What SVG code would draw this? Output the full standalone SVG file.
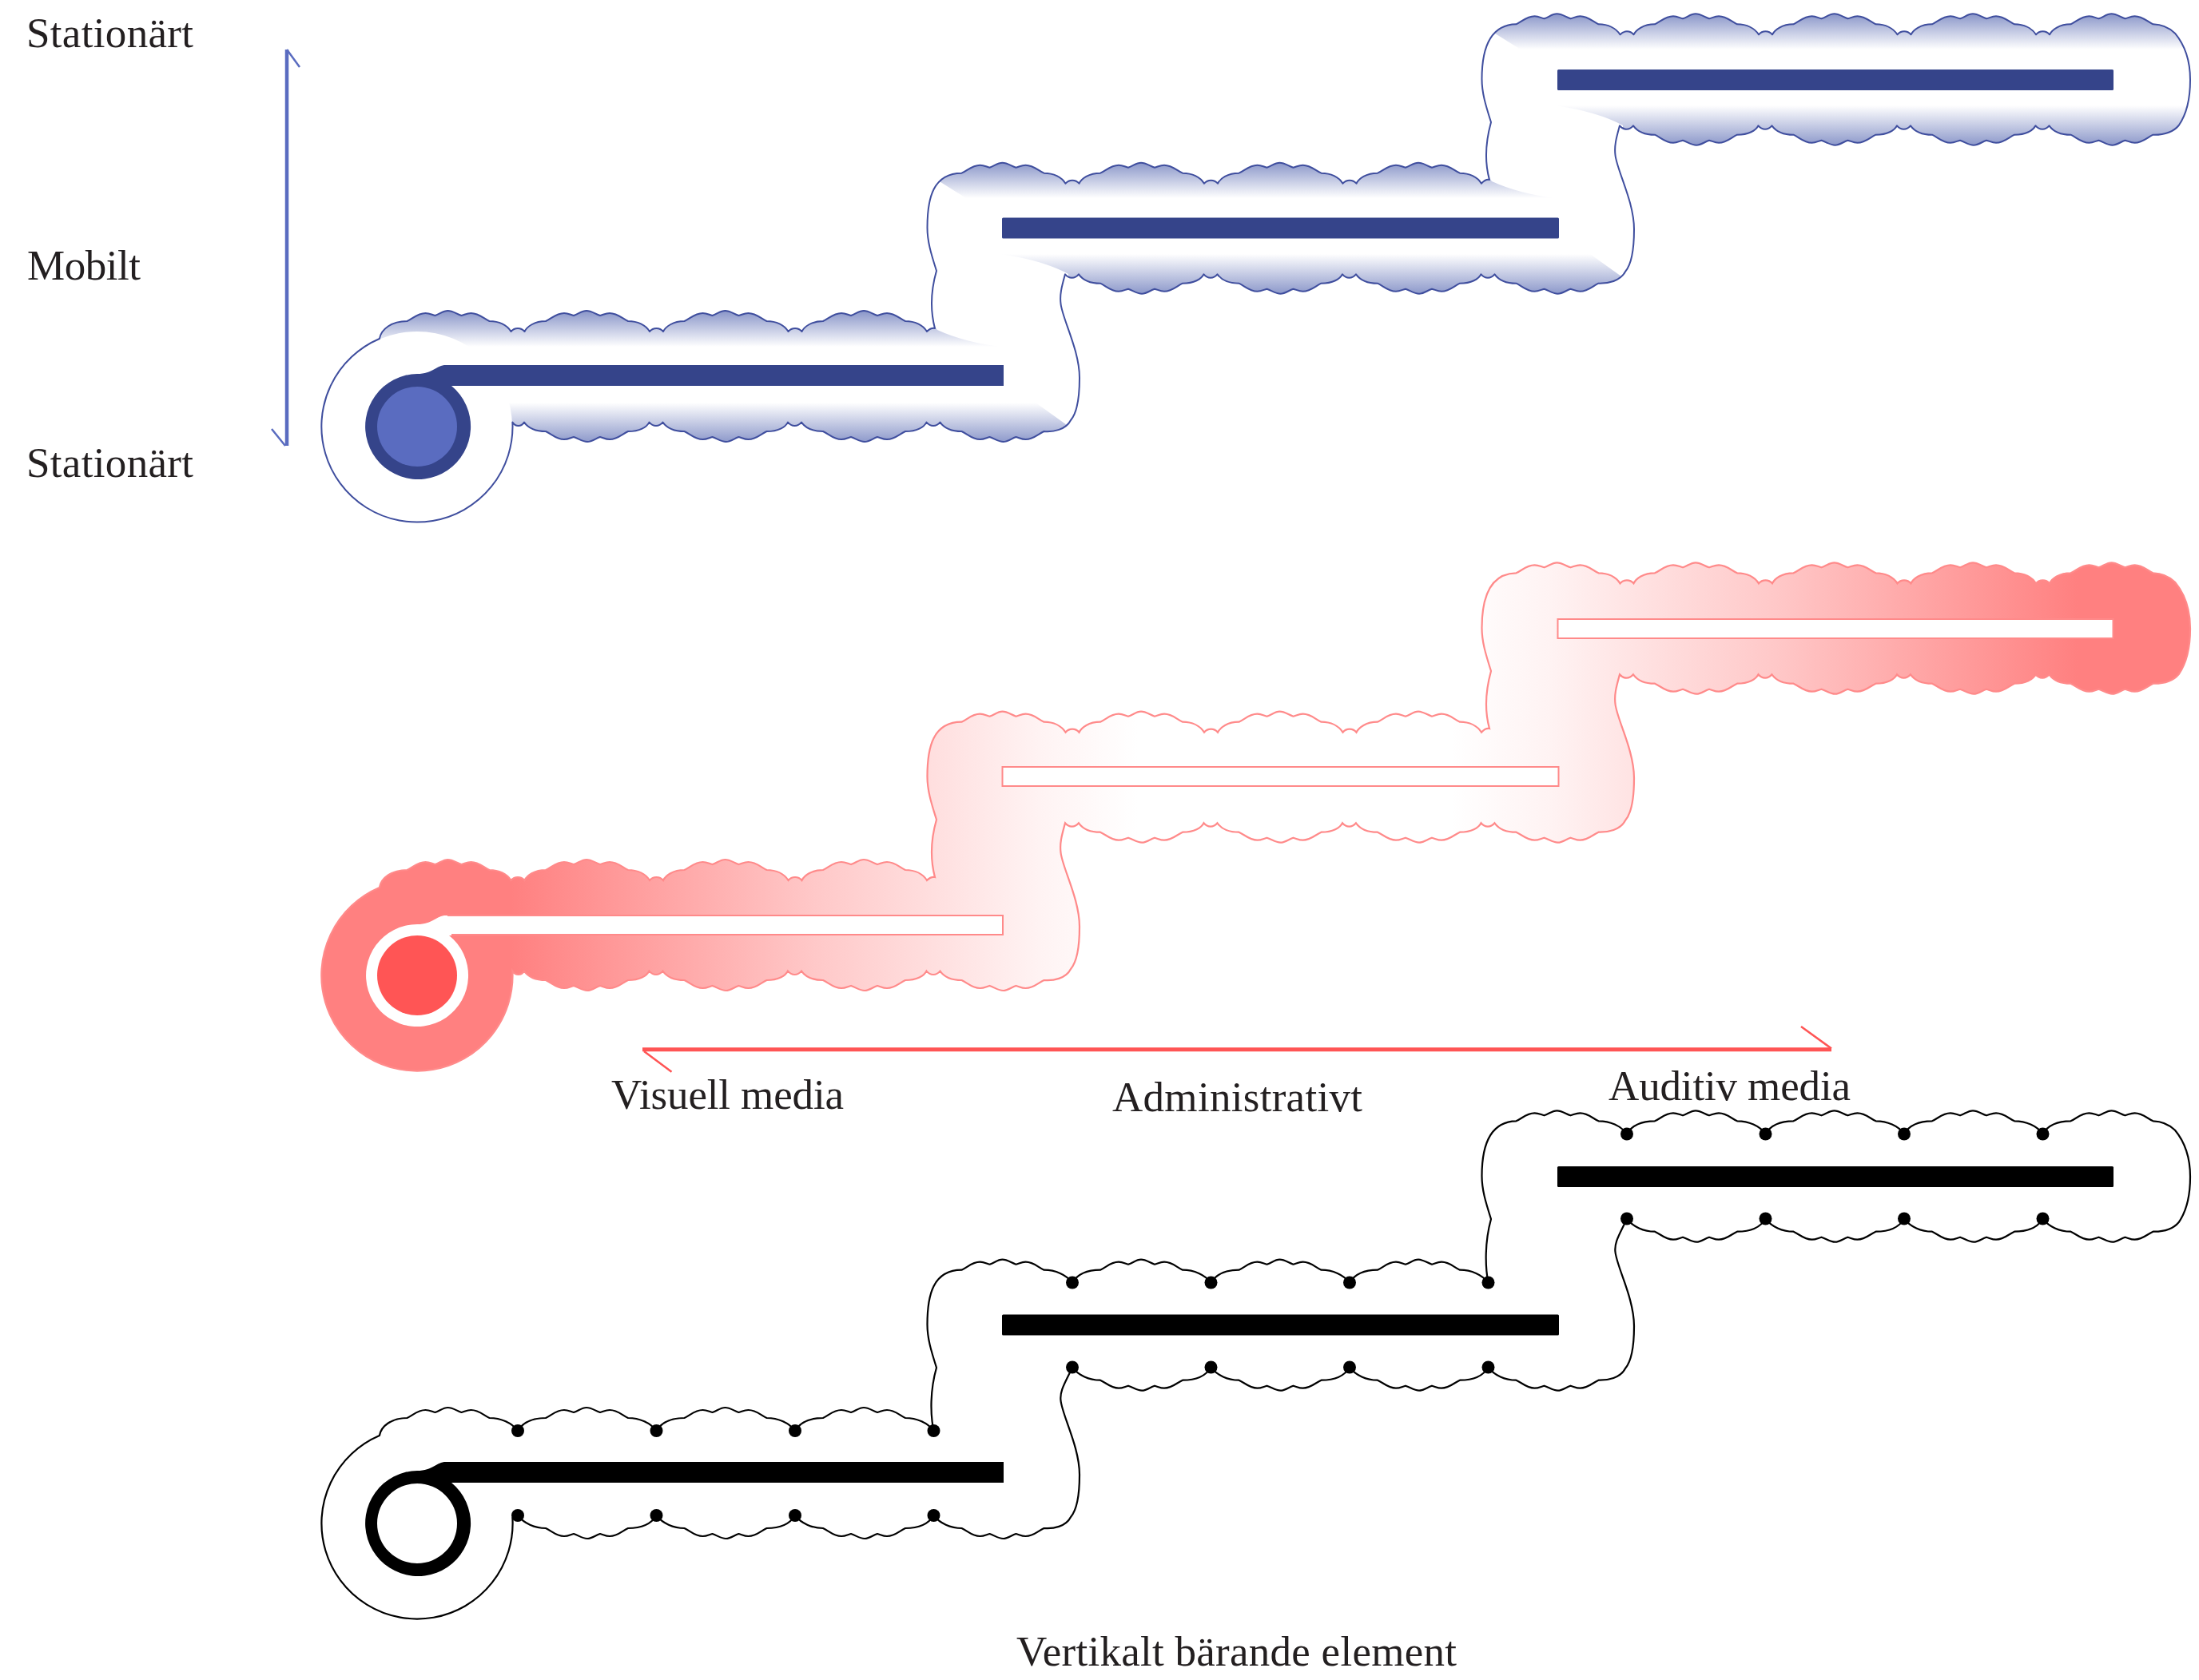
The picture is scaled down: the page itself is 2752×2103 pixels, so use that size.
<svg xmlns="http://www.w3.org/2000/svg" xmlns:xlink="http://www.w3.org/1999/xlink" width="2752" height="2103" viewBox="0 0 2752 2103">
<style>
text{font-family:"Liberation Serif","Times New Roman",serif;font-size:53px;fill:#231f20}
.ol{fill:none;stroke-width:2;stroke-linejoin:round}
.blue-ol{stroke:#3f4e9e}
.red-ol{stroke:#ff8a8a;stroke-width:2.2}
.black-ol{stroke:#000;stroke-width:2.2}
.bar-blue{fill:#35448a}
.bar-black{fill:#000}
.bar-red{fill:#fff;stroke:#ff8a8a;stroke-width:2}
.arrow-blue{fill:none;stroke:#5a6cc0}
.arrow-red{fill:none;stroke:#ff5555}
</style>
<defs>
<linearGradient id="gTop" x1="0" y1="0" x2="0" y2="1"><stop offset="0" stop-color="#8c98ca"/><stop offset="1" stop-color="#fff"/></linearGradient>
<linearGradient id="gBot" x1="0" y1="0" x2="0" y2="1"><stop offset="0" stop-color="#fff"/><stop offset="1" stop-color="#8c98ca"/></linearGradient>
<linearGradient id="gRed" gradientUnits="userSpaceOnUse" x1="640" y1="0" x2="2600" y2="0"><stop offset="0" stop-color="#ff8080"/><stop offset="0.193" stop-color="#ffc8c8"/><stop offset="0.337" stop-color="#fff3f3"/><stop offset="0.4" stop-color="#fff"/><stop offset="0.6" stop-color="#fff"/><stop offset="0.663" stop-color="#fff3f3"/><stop offset="0.807" stop-color="#ffc8c8"/><stop offset="1" stop-color="#ff8080"/></linearGradient>
<path id="outlineDot" d="M474.9,1797C477,1785 490,1775 509.5,1775
c7,-3 13,-10 23,-10c5,0 8,2 12,3c6,-2 10,-6 16,-6c6,0 11,4 17,6c4,-1 7,-3 12,-3c10,0 16,7 23,10c14.5,0 28,6 35.5,16
c6,-10 18,-16 35,-16c7,-3 13,-10 23,-10c5,0 8,2 12,3c6,-2 10,-6 16,-6c6,0 11,4 17,6c4,-1 7,-3 12,-3c10,0 16,7 23,10c14.5,0 28,6 35.5,16
c6,-10 18,-16 35,-16c7,-3 13,-10 23,-10c5,0 8,2 12,3c6,-2 10,-6 16,-6c6,0 11,4 17,6c4,-1 7,-3 12,-3c10,0 16,7 23,10c14.5,0 28,6 35.5,16
c6,-10 18,-16 35,-16c7,-3 13,-10 23,-10c5,0 8,2 12,3c6,-2 10,-6 16,-6c6,0 11,4 17,6c4,-1 7,-3 12,-3c10,0 16,7 23,10c14.5,0 28,6 35.5,16
C1164,1770 1164,1740 1172,1712C1165,1690 1160.5,1675 1160.5,1658C1160.5,1620 1168,1590 1203.5,1589.7
c7,-3 13,-10 23,-10c5,0 8,2 12,3c6,-2 10,-6 16,-6c6,0 11,4 17,6c4,-1 7,-3 12,-3c10,0 16,7 23,10c14.5,0 28,6 35.5,16
c6,-10 18,-16 35,-16c7,-3 13,-10 23,-10c5,0 8,2 12,3c6,-2 10,-6 16,-6c6,0 11,4 17,6c4,-1 7,-3 12,-3c10,0 16,7 23,10c14.5,0 28,6 35.5,16
c6,-10 18,-16 35,-16c7,-3 13,-10 23,-10c5,0 8,2 12,3c6,-2 10,-6 16,-6c6,0 11,4 17,6c4,-1 7,-3 12,-3c10,0 16,7 23,10c14.5,0 28,6 35.5,16
c6,-10 18,-16 35,-16c7,-3 13,-10 23,-10c5,0 8,2 12,3c6,-2 10,-6 16,-6c6,0 11,4 17,6c4,-1 7,-3 12,-3c10,0 16,7 23,10c14.5,0 28,6 35.5,16
C1858.5,1585 1858,1555 1866,1526C1859,1504 1854.5,1489 1854.5,1472C1854.5,1440 1862,1404 1897.5,1403.3
c7,-3 13,-10 23,-10c5,0 8,2 12,3c6,-2 10,-6 16,-6c6,0 11,4 17,6c4,-1 7,-3 12,-3c10,0 16,7 23,10c14.5,0 28,6 35.5,16
c6,-10 18,-16 35,-16c7,-3 13,-10 23,-10c5,0 8,2 12,3c6,-2 10,-6 16,-6c6,0 11,4 17,6c4,-1 7,-3 12,-3c10,0 16,7 23,10c14.5,0 28,6 35.5,16
c6,-10 18,-16 35,-16c7,-3 13,-10 23,-10c5,0 8,2 12,3c6,-2 10,-6 16,-6c6,0 11,4 17,6c4,-1 7,-3 12,-3c10,0 16,7 23,10c14.5,0 28,6 35.5,16
c6,-10 18,-16 35,-16c7,-3 13,-10 23,-10c5,0 8,2 12,3c6,-2 10,-6 16,-6c6,0 11,4 17,6c4,-1 7,-3 12,-3c10,0 16,7 23,10c14.5,0 28,6 35.5,16
c6,-10 18,-16 35,-16c7,-3 13,-10 23,-10c5,0 8,2 12,3c6,-2 10,-6 16,-6c6,0 11,4 17,6c4,-1 7,-3 12,-3c10,0 16,7 23,10
C2703,1403.5 2713,1406 2722,1414.7C2733,1428 2741,1445 2741,1473C2741,1500 2735,1518 2726.7,1530C2720,1538 2710,1542 2694.5,1541.7
c-7,3 -13,10 -23,10c-5,0 -8,-2 -12,-3c-6,2 -10,6 -16,6c-6,0 -11,-4 -17,-6c-4,1 -7,3 -12,3c-10,0 -16,-7 -23,-10c-14,0 -27,-6 -35,-16
c-6,10 -18,16 -35.5,16c-7,3 -13,10 -23,10c-5,0 -8,-2 -12,-3c-6,2 -10,6 -16,6c-6,0 -11,-4 -17,-6c-4,1 -7,3 -12,3c-10,0 -16,-7 -23,-10c-14,0 -27,-6 -35,-16
c-6,10 -18,16 -35.5,16c-7,3 -13,10 -23,10c-5,0 -8,-2 -12,-3c-6,2 -10,6 -16,6c-6,0 -11,-4 -17,-6c-4,1 -7,3 -12,3c-10,0 -16,-7 -23,-10c-14,0 -27,-6 -35,-16
c-6,10 -18,16 -35.5,16c-7,3 -13,10 -23,10c-5,0 -8,-2 -12,-3c-6,2 -10,6 -16,6c-6,0 -11,-4 -17,-6c-4,1 -7,3 -12,3c-10,0 -16,-7 -23,-10c-14,0 -27,-6 -35,-16
C2027,1545 2020,1555 2021.5,1567C2023,1585 2045,1625 2045,1660C2045,1690 2040,1706 2034,1713C2028,1725 2012,1728 2000.5,1727.7
c-7,3 -13,10 -23,10c-5,0 -8,-2 -12,-3c-6,2 -10,6 -16,6c-6,0 -11,-4 -17,-6c-4,1 -7,3 -12,3c-10,0 -16,-7 -23,-10c-14,0 -27,-6 -35,-16
c-6,10 -18,16 -35.5,16c-7,3 -13,10 -23,10c-5,0 -8,-2 -12,-3c-6,2 -10,6 -16,6c-6,0 -11,-4 -17,-6c-4,1 -7,3 -12,3c-10,0 -16,-7 -23,-10c-14,0 -27,-6 -35,-16
c-6,10 -18,16 -35.5,16c-7,3 -13,10 -23,10c-5,0 -8,-2 -12,-3c-6,2 -10,6 -16,6c-6,0 -11,-4 -17,-6c-4,1 -7,3 -12,3c-10,0 -16,-7 -23,-10c-14,0 -27,-6 -35,-16
c-6,10 -18,16 -35.5,16c-7,3 -13,10 -23,10c-5,0 -8,-2 -12,-3c-6,2 -10,6 -16,6c-6,0 -11,-4 -17,-6c-4,1 -7,3 -12,3c-10,0 -16,-7 -23,-10c-14,0 -27,-6 -35,-16
C1333,1731 1326,1741 1327.5,1753C1329,1771 1351,1811 1351,1846C1351,1876 1346,1892 1340,1899C1334,1911 1318,1914 1306.5,1913
c-7,3 -13,10 -23,10c-5,0 -8,-2 -12,-3c-6,2 -10,6 -16,6c-6,0 -11,-4 -17,-6c-4,1 -7,3 -12,3c-10,0 -16,-7 -23,-10c-14,0 -27,-6 -35,-16
c-6,10 -18,16 -35.5,16c-7,3 -13,10 -23,10c-5,0 -8,-2 -12,-3c-6,2 -10,6 -16,6c-6,0 -11,-4 -17,-6c-4,1 -7,3 -12,3c-10,0 -16,-7 -23,-10c-14,0 -27,-6 -35,-16
c-6,10 -18,16 -35.5,16c-7,3 -13,10 -23,10c-5,0 -8,-2 -12,-3c-6,2 -10,6 -16,6c-6,0 -11,-4 -17,-6c-4,1 -7,3 -12,3c-10,0 -16,-7 -23,-10c-14,0 -27,-6 -35,-16
c-6,10 -18,16 -35.5,16c-7,3 -13,10 -23,10c-5,0 -8,-2 -12,-3c-6,2 -10,6 -16,6c-6,0 -11,-4 -17,-6c-4,1 -7,3 -12,3c-10,0 -16,-7 -23,-10c-14,0 -27,-6 -35,-16
L641.4,1900A119.6,119.6 0 1 1 474.9,1797Z"/>
<path id="outlineCusp" d="M474.9,1797C477,1785 490,1775 509.5,1775
c7,-3 13,-10 23,-10c5,0 8,2 12,3c6,-2 10,-6 16,-6c6,0 11,4 17,6c4,-1 7,-3 12,-3c10,0 16,7 23,10c12,0 22,5 27,13c2.5,-3 6,-4 8.5,-4c2.5,0 6,1 8.5,4c3,-6 12,-13 26.5,-13
c7,-3 13,-10 23,-10c5,0 8,2 12,3c6,-2 10,-6 16,-6c6,0 11,4 17,6c4,-1 7,-3 12,-3c10,0 16,7 23,10c12,0 22,5 27,13c2.5,-3 6,-4 8.5,-4c2.5,0 6,1 8.5,4c3,-6 12,-13 26.5,-13
c7,-3 13,-10 23,-10c5,0 8,2 12,3c6,-2 10,-6 16,-6c6,0 11,4 17,6c4,-1 7,-3 12,-3c10,0 16,7 23,10c12,0 22,5 27,13c2.5,-3 6,-4 8.5,-4c2.5,0 6,1 8.5,4c3,-6 12,-13 26.5,-13
c7,-3 13,-10 23,-10c5,0 8,2 12,3c6,-2 10,-6 16,-6c6,0 11,4 17,6c4,-1 7,-3 12,-3c10,0 16,7 23,10c12,0 22,5 27,13
Q1165,1783 1170,1784C1165,1765 1164,1740 1172,1712C1165,1690 1160.5,1675 1160.5,1658C1160.5,1620 1168,1590 1203.5,1589.7
c7,-3 13,-10 23,-10c5,0 8,2 12,3c6,-2 10,-6 16,-6c6,0 11,4 17,6c4,-1 7,-3 12,-3c10,0 16,7 23,10c12,0 22,5 27,13c2.5,-3 6,-4 8.5,-4c2.5,0 6,1 8.5,4c3,-6 12,-13 26.5,-13
c7,-3 13,-10 23,-10c5,0 8,2 12,3c6,-2 10,-6 16,-6c6,0 11,4 17,6c4,-1 7,-3 12,-3c10,0 16,7 23,10c12,0 22,5 27,13c2.5,-3 6,-4 8.5,-4c2.5,0 6,1 8.5,4c3,-6 12,-13 26.5,-13
c7,-3 13,-10 23,-10c5,0 8,2 12,3c6,-2 10,-6 16,-6c6,0 11,4 17,6c4,-1 7,-3 12,-3c10,0 16,7 23,10c12,0 22,5 27,13c2.5,-3 6,-4 8.5,-4c2.5,0 6,1 8.5,4c3,-6 12,-13 26.5,-13
c7,-3 13,-10 23,-10c5,0 8,2 12,3c6,-2 10,-6 16,-6c6,0 11,4 17,6c4,-1 7,-3 12,-3c10,0 16,7 23,10c12,0 22,5 27,13
Q1859,1597 1864,1598C1859,1580 1858,1555 1866,1526C1859,1504 1854.5,1489 1854.5,1472C1854.5,1440 1862,1404 1897.5,1403.3
c7,-3 13,-10 23,-10c5,0 8,2 12,3c6,-2 10,-6 16,-6c6,0 11,4 17,6c4,-1 7,-3 12,-3c10,0 16,7 23,10c12,0 22,5 27,13c2.5,-3 6,-4 8.5,-4c2.5,0 6,1 8.5,4c3,-6 12,-13 26.5,-13
c7,-3 13,-10 23,-10c5,0 8,2 12,3c6,-2 10,-6 16,-6c6,0 11,4 17,6c4,-1 7,-3 12,-3c10,0 16,7 23,10c12,0 22,5 27,13c2.5,-3 6,-4 8.5,-4c2.5,0 6,1 8.5,4c3,-6 12,-13 26.5,-13
c7,-3 13,-10 23,-10c5,0 8,2 12,3c6,-2 10,-6 16,-6c6,0 11,4 17,6c4,-1 7,-3 12,-3c10,0 16,7 23,10c12,0 22,5 27,13c2.5,-3 6,-4 8.5,-4c2.5,0 6,1 8.5,4c3,-6 12,-13 26.5,-13
c7,-3 13,-10 23,-10c5,0 8,2 12,3c6,-2 10,-6 16,-6c6,0 11,4 17,6c4,-1 7,-3 12,-3c10,0 16,7 23,10c12,0 22,5 27,13c2.5,-3 6,-4 8.5,-4c2.5,0 6,1 8.5,4c3,-6 12,-13 26.5,-13
c7,-3 13,-10 23,-10c5,0 8,2 12,3c6,-2 10,-6 16,-6c6,0 11,4 17,6c4,-1 7,-3 12,-3c10,0 16,7 23,10
C2703,1403.5 2713,1406 2722,1414.7C2733,1428 2741,1445 2741,1473C2741,1500 2735,1518 2726.7,1530C2720,1538 2710,1542 2694.5,1541.7
c-7,3 -13,10 -23,10c-5,0 -8,-2 -12,-3c-6,2 -10,6 -16,6c-6,0 -11,-4 -17,-6c-4,1 -7,3 -12,3c-10,0 -16,-7 -23,-10c-12,0 -22,-4.4 -27,-11.4c-2.5,3 -6,4.4 -8.5,4.4c-2.5,0 -6,-1.4 -8.5,-4.4c-3,6 -12,11.4 -26.5,11.4
c-7,3 -13,10 -23,10c-5,0 -8,-2 -12,-3c-6,2 -10,6 -16,6c-6,0 -11,-4 -17,-6c-4,1 -7,3 -12,3c-10,0 -16,-7 -23,-10c-12,0 -22,-4.4 -27,-11.4c-2.5,3 -6,4.4 -8.5,4.4c-2.5,0 -6,-1.4 -8.5,-4.4c-3,6 -12,11.4 -26.5,11.4
c-7,3 -13,10 -23,10c-5,0 -8,-2 -12,-3c-6,2 -10,6 -16,6c-6,0 -11,-4 -17,-6c-4,1 -7,3 -12,3c-10,0 -16,-7 -23,-10c-12,0 -22,-4.4 -27,-11.4c-2.5,3 -6,4.4 -8.5,4.4c-2.5,0 -6,-1.4 -8.5,-4.4c-3,6 -12,11.4 -26.5,11.4
c-7,3 -13,10 -23,10c-5,0 -8,-2 -12,-3c-6,2 -10,6 -16,6c-6,0 -11,-4 -17,-6c-4,1 -7,3 -12,3c-10,0 -16,-7 -23,-10c-12,0 -22,-4.4 -27,-11.4c-2.5,3 -6,4.4 -8.5,4.4c-2.5,0 -6,-1.4 -8.5,-4.4
C2023,1545 2020,1555 2021.5,1567C2023,1585 2045,1625 2045,1660C2045,1690 2040,1706 2034,1713C2028,1725 2012,1728 2000.5,1727.7
c-7,3 -13,10 -23,10c-5,0 -8,-2 -12,-3c-6,2 -10,6 -16,6c-6,0 -11,-4 -17,-6c-4,1 -7,3 -12,3c-10,0 -16,-7 -23,-10c-12,0 -22,-4.4 -27,-11.4c-2.5,3 -6,4.4 -8.5,4.4c-2.5,0 -6,-1.4 -8.5,-4.4c-3,6 -12,11.4 -26.5,11.4
c-7,3 -13,10 -23,10c-5,0 -8,-2 -12,-3c-6,2 -10,6 -16,6c-6,0 -11,-4 -17,-6c-4,1 -7,3 -12,3c-10,0 -16,-7 -23,-10c-12,0 -22,-4.4 -27,-11.4c-2.5,3 -6,4.4 -8.5,4.4c-2.5,0 -6,-1.4 -8.5,-4.4c-3,6 -12,11.4 -26.5,11.4
c-7,3 -13,10 -23,10c-5,0 -8,-2 -12,-3c-6,2 -10,6 -16,6c-6,0 -11,-4 -17,-6c-4,1 -7,3 -12,3c-10,0 -16,-7 -23,-10c-12,0 -22,-4.4 -27,-11.4c-2.5,3 -6,4.4 -8.5,4.4c-2.5,0 -6,-1.4 -8.5,-4.4c-3,6 -12,11.4 -26.5,11.4
c-7,3 -13,10 -23,10c-5,0 -8,-2 -12,-3c-6,2 -10,6 -16,6c-6,0 -11,-4 -17,-6c-4,1 -7,3 -12,3c-10,0 -16,-7 -23,-10c-12,0 -22,-4.4 -27,-11.4c-2.5,3 -6,4.4 -8.5,4.4c-2.5,0 -6,-1.4 -8.5,-4.4
C1329,1731 1326,1741 1327.5,1753C1329,1771 1351,1811 1351,1846C1351,1876 1346,1892 1340,1899C1334,1911 1318,1914 1306.5,1913
c-7,3 -13,10 -23,10c-5,0 -8,-2 -12,-3c-6,2 -10,6 -16,6c-6,0 -11,-4 -17,-6c-4,1 -7,3 -12,3c-10,0 -16,-7 -23,-10c-12,0 -22,-4.4 -27,-11.4c-2.5,3 -6,4.4 -8.5,4.4c-2.5,0 -6,-1.4 -8.5,-4.4c-3,6 -12,11.4 -26.5,11.4
c-7,3 -13,10 -23,10c-5,0 -8,-2 -12,-3c-6,2 -10,6 -16,6c-6,0 -11,-4 -17,-6c-4,1 -7,3 -12,3c-10,0 -16,-7 -23,-10c-12,0 -22,-4.4 -27,-11.4c-2.5,3 -6,4.4 -8.5,4.4c-2.5,0 -6,-1.4 -8.5,-4.4c-3,6 -12,11.4 -26.5,11.4
c-7,3 -13,10 -23,10c-5,0 -8,-2 -12,-3c-6,2 -10,6 -16,6c-6,0 -11,-4 -17,-6c-4,1 -7,3 -12,3c-10,0 -16,-7 -23,-10c-12,0 -22,-4.4 -27,-11.4c-2.5,3 -6,4.4 -8.5,4.4c-2.5,0 -6,-1.4 -8.5,-4.4c-3,6 -12,11.4 -26.5,11.4
c-7,3 -13,10 -23,10c-5,0 -8,-2 -12,-3c-6,2 -10,6 -16,6c-6,0 -11,-4 -17,-6c-4,1 -7,3 -12,3c-10,0 -16,-7 -23,-10c-12,0 -22,-4.4 -27,-11.4c-2,3 -5,4.4 -7.3,4.4c-2,0 -5.3,-1.4 -7.3,-4.4
A119.6,119.6 0 1 1 474.9,1797Z"/>
<clipPath id="clipCusp"><use href="#outlineCusp"/></clipPath>
<path id="bar1" d="M1256,1830H558C546,1830 542,1841 522,1841A66,66 0 1 0 565,1856H1256Z"/>
<rect id="bar2" x="1254" y="1645.5" width="697" height="26" rx="1.5"/>
<rect id="bar3" x="1949" y="1460" width="696" height="26" rx="1.5"/>
</defs>
<rect width="2752" height="2103" fill="#fff"/>

<g id="track-blue" transform="translate(0,-1373)">
<use href="#outlineCusp" fill="#fff"/>
<g clip-path="url(#clipCusp)">
<path d="M1833,1391L1903,1435H2760V1391Z" fill="url(#gTop)"/>
<path d="M1139,1577L1209,1621H1945Q1900,1615 1867,1600L1850,1577Z" fill="url(#gTop)"/>
<path d="M460,1763V1807H1251Q1206,1801 1173,1786L1156,1763Z" fill="url(#gTop)"/>
<path d="M1946,1505Q2000,1513 2031,1530V1555H2760V1505Z" fill="url(#gBot)"/>
<path d="M1252,1691Q1306,1699 1337,1716V1741H2060L1990,1691Z" fill="url(#gBot)"/>
<path d="M630,1877V1927H1366L1296,1877Z" fill="url(#gBot)"/>
</g>
<circle cx="522" cy="1907" r="119" fill="#fff"/>
<use href="#outlineCusp" class="ol blue-ol"/>
<use href="#bar1" class="bar-blue"/>
<circle cx="522" cy="1907" r="50" fill="#5a6cc0"/>
<use href="#bar2" class="bar-blue"/>
<use href="#bar3" class="bar-blue"/>
</g>

<g id="track-red" transform="translate(0,-686)">
<use href="#outlineCusp" fill="url(#gRed)" class="red-ol"/>
<path fill="#fff" d="M1256,1832H558C546,1832 542,1843 522,1843A64,64 0 1 0 562,1857H1256Z"/>
<path d="M560,1832H1255V1856H565" fill="none" stroke="#ff8a8a" stroke-width="2"/>
<circle cx="522" cy="1907" r="50" fill="#ff5555"/>
<rect class="bar-red" x="1254.5" y="1646" width="696" height="24"/>
<rect class="bar-red" x="1949.5" y="1461" width="695" height="24"/>
</g>

<g id="track-black">
<use href="#outlineDot" class="ol black-ol"/>
<path class="bar-black" fill-rule="evenodd" d="M1256,1830H558C546,1830 542,1841 522,1841A66,66 0 1 0 565,1856H1256ZM572,1907A50,50 0 1 0 472,1907A50,50 0 1 0 572,1907Z"/>
<use href="#bar2" class="bar-black"/>
<use href="#bar3" class="bar-black"/>
<g id="dots" fill="#000">
<circle cx="648" cy="1791" r="8"/><circle cx="821.5" cy="1791" r="8"/><circle cx="995" cy="1791" r="8"/><circle cx="1168.5" cy="1791" r="8"/>
<circle cx="648" cy="1897" r="8"/><circle cx="821.5" cy="1897" r="8"/><circle cx="995" cy="1897" r="8"/><circle cx="1168.5" cy="1897" r="8"/>
<circle cx="1342" cy="1605.5" r="8"/><circle cx="1515.5" cy="1605.5" r="8"/><circle cx="1689" cy="1605.5" r="8"/><circle cx="1862.5" cy="1605.5" r="8"/>
<circle cx="1342" cy="1711.5" r="8"/><circle cx="1515.5" cy="1711.5" r="8"/><circle cx="1689" cy="1711.5" r="8"/><circle cx="1862.5" cy="1711.5" r="8"/>
<circle cx="2036" cy="1419.5" r="8"/><circle cx="2209.5" cy="1419.5" r="8"/><circle cx="2383" cy="1419.5" r="8"/><circle cx="2556.5" cy="1419.5" r="8"/>
<circle cx="2036" cy="1525.5" r="8"/><circle cx="2209.5" cy="1525.5" r="8"/><circle cx="2383" cy="1525.5" r="8"/><circle cx="2556.5" cy="1525.5" r="8"/>
</g>
</g>

<g id="connectors">
<g id="arrow-vertical" class="arrow-blue">
<path d="M359,62V558" stroke-width="4.5"/>
<path d="M359,62L375,84M357,558L340,537" stroke-width="2.5"/>
</g>
<g id="arrow-horizontal" class="arrow-red">
<path d="M804,1313.7H2292" stroke-width="5"/>
<path d="M806,1316L840.5,1341.7M2292,1312.5L2254,1285" stroke-width="2.5"/>
</g>
</g>

<g id="label-stationart-top"><text x="33" y="59" textLength="209">Stationärt</text></g>
<g id="label-mobilt"><text x="34" y="350" textLength="142">Mobilt</text></g>
<g id="label-stationart-bottom"><text x="33" y="597" textLength="209">Stationärt</text></g>
<g id="label-visuell"><text x="765" y="1388" textLength="291">Visuell media</text></g>
<g id="label-administrativt"><text x="1392" y="1391" textLength="313">Administrativt</text></g>
<g id="label-auditiv"><text x="2013" y="1377" textLength="303">Auditiv media</text></g>
<g id="label-vertikalt"><text x="1272" y="2085" textLength="551">Vertikalt bärande element</text></g>
</svg>
